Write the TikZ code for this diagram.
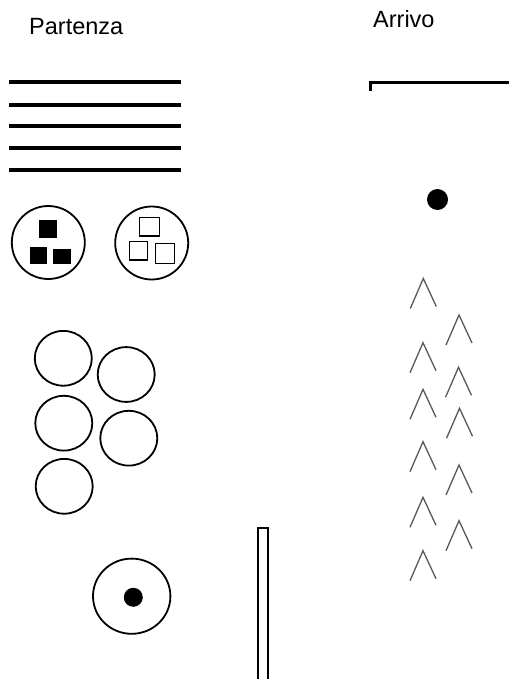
\documentclass[tikz,border=0pt]{standalone}
\usepackage{fontspec}
\setmainfont{Liberation Sans}
\begin{document}
\begin{tikzpicture}[x=1pt,y=-1pt,
  lbl/.style={inner sep=0pt,anchor=base west,font=\fontsize{23.5}{28}\selectfont},
  bar/.style={line width=4pt},
  ring/.style={draw,line width=1.8pt},
  smallring/.style={line width=1.8pt},
  caret/.style={draw=black!65,line width=1.3pt,line join=miter},
  fsq/.style={fill=black},
  osq/.style={draw,line width=1.3pt,fill=white}]
\useasboundingbox[fill=white] (0,0) rectangle (508,679);
% labels
\node[lbl] (partenza) at (29,35) {Partenza};
\node[lbl] (arrivo) at (373,28) {Arrivo};
% five horizontal bars
\foreach \y in {82.3,105.3,126,147.7,170}
  \draw[bar] (9.3,\y) -- (181,\y);
% circle with filled squares
\draw[smallring] (48.3,242.5) circle[radius=36.5];
\fill[fsq] (39.3,220) rectangle (57.3,238.3);
\fill[fsq] (30,246.7) rectangle (47.3,264);
\fill[fsq] (53.3,249) rectangle (71,264);
% circle with open squares
\draw[smallring] (151.7,243) circle[radius=36.5];
\draw[osq] (139.3,217.3) rectangle (159.3,236);
\draw[osq] (129.3,241.7) rectangle (147.7,260);
\draw[osq] (155.7,243.3) rectangle (174.3,263.3);
% five circles
\foreach \cx/\cy in {63.3/358.3,126.2/374.5,63.8/423.2,128.8/438.2,64.2/486.3}
  \draw[smallring] (\cx,\cy) ellipse[x radius=28.5,y radius=27.4];
% target
\draw[smallring] (131.7,596.2) ellipse[x radius=38.7,y radius=37.6];
\fill (133.3,597.3) circle[radius=9.5];
% thin tall rectangle
\draw[line width=1.8pt,fill=white] (267.7,700) -- (267.7,528.3) -- (258.3,528.3) -- (258.3,700);
% bracket
\draw[line width=3pt] (370,91) -- (370,82.7) -- (510,82.7);
% dot
\fill (437.5,199.5) circle[radius=10.5];
% carets
\foreach \x/\y in {423.3/278.5,423/342.7,423/389.3,423/441.7,423/497.3,423/550.7,
                  459/315,458.5/367.3,459.5/408.3,459/465,459/520.7}
  \draw[caret] (\x-13,\y+30) -- (\x,\y) -- (\x+13,\y+28);
\end{tikzpicture}
\end{document}
